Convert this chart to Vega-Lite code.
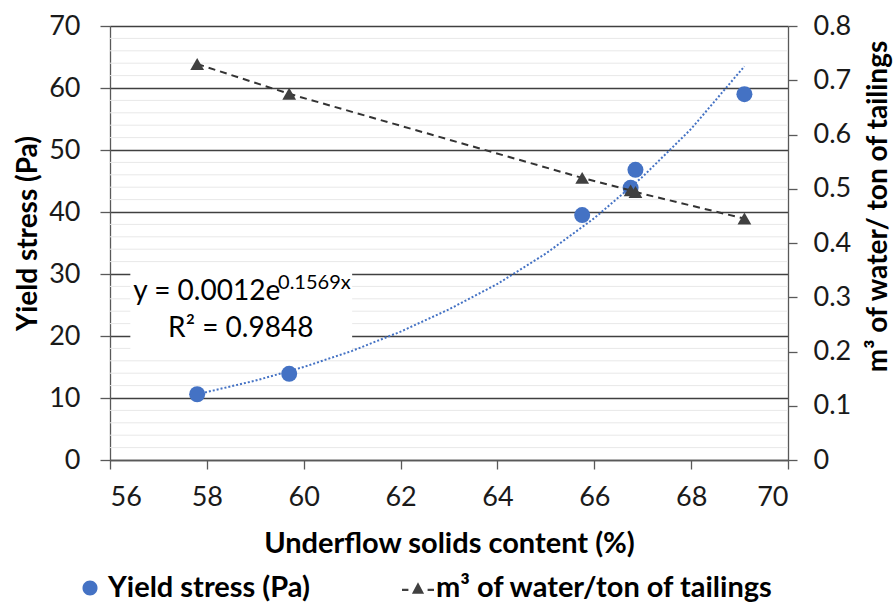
{
  "$schema": "https://vega.github.io/schema/vega-lite/v6.json",
  "width": 678,
  "height": 434,
  "autosize": {"type": "none"},
  "padding": {"left": 110, "top": 26, "right": 106, "bottom": 146},
  "background": "white",
  "config": {
    "font": "Lato",
    "view": {"stroke": null},
    "axis": {
      "labelFont": "Lato",
      "labelFontSize": 27,
      "labelColor": "#1a1a1a",
      "titleFont": "Lato",
      "titleFontSize": 28,
      "titleFontWeight": "bold",
      "titleColor": "#000000",
      "domainColor": "#595959",
      "domainWidth": 1.3,
      "tickColor": "#595959",
      "tickWidth": 1.3
    }
  },
  "datasets": {
    "yield": [
      {"x": 57.8, "ys": 10.6},
      {"x": 59.7, "ys": 13.9},
      {"x": 65.75, "ys": 39.5},
      {"x": 66.75, "ys": 43.9},
      {"x": 66.85, "ys": 46.8},
      {"x": 69.1, "ys": 59.0}
    ],
    "water": [
      {"x": 57.8, "w": 0.73},
      {"x": 59.7, "w": 0.675},
      {"x": 65.75, "w": 0.52},
      {"x": 66.75, "w": 0.497},
      {"x": 66.85, "w": 0.494},
      {"x": 69.1, "w": 0.445}
    ],
    "trend": [
      {"x": 57.8, "t": 10.6},
      {"x": 59, "t": 12.8},
      {"x": 60, "t": 15.0},
      {"x": 61, "t": 17.6},
      {"x": 62, "t": 20.7},
      {"x": 63, "t": 24.3},
      {"x": 64, "t": 28.4},
      {"x": 65, "t": 33.3},
      {"x": 66, "t": 39.0},
      {"x": 67, "t": 45.7},
      {"x": 68, "t": 53.4},
      {"x": 69.1, "t": 63.5}
    ],
    "minor": [
      {"v": 2}, {"v": 4}, {"v": 6}, {"v": 8},
      {"v": 12}, {"v": 14}, {"v": 16}, {"v": 18},
      {"v": 22}, {"v": 24}, {"v": 26}, {"v": 28},
      {"v": 32}, {"v": 34}, {"v": 36}, {"v": 38},
      {"v": 42}, {"v": 44}, {"v": 46}, {"v": 48},
      {"v": 52}, {"v": 54}, {"v": 56}, {"v": 58},
      {"v": 62}, {"v": 64}, {"v": 66}, {"v": 68}
    ],
    "annot": [
      {"eq": "y = 0.0012e", "exp": "0.1569x", "r2": "R² = 0.9848"}
    ]
  },
  "layer": [
    {
      "layer": [
        {
          "data": {"name": "minor"},
          "mark": {"type": "rule", "color": "#e8e8e8", "strokeWidth": 1},
          "encoding": {
            "y": {
              "field": "v",
              "type": "quantitative",
              "scale": {"domain": [0, 70], "nice": false, "zero": false},
              "axis": {
                "orient": "left",
                "title": "Yield stress (Pa)",
                "values": [0, 10, 20, 30, 40, 50, 60, 70],
                "grid": true,
                "gridColor": "#404040",
                "gridWidth": 1.3,
                "tickSize": 10,
                "labelPadding": 20,
                "titleAngle": 270,
                "titleX": -82,
                "titleY": 207,
                "titleAlign": "center",
                "titleBaseline": "middle"
              }
            }
          }
        },
        {
          "data": {"name": "annot"},
          "mark": {"type": "rect", "fill": "white"},
          "encoding": {
            "x": {"datum": 56.42, "type": "quantitative"},
            "x2": {"datum": 61.0},
            "y": {"datum": 16.9, "type": "quantitative"},
            "y2": {"datum": 31.3}
          }
        },
        {
          "data": {"name": "annot"},
          "mark": {"type": "text", "align": "left", "baseline": "middle", "fontSize": 28, "font": "Lato", "color": "#000000"},
          "encoding": {
            "x": {"datum": 56.48, "type": "quantitative"},
            "y": {"datum": 27.1, "type": "quantitative"},
            "text": {"field": "eq"}
          }
        },
        {
          "data": {"name": "annot"},
          "mark": {"type": "text", "align": "left", "baseline": "middle", "fontSize": 20, "font": "Lato", "color": "#000000"},
          "encoding": {
            "x": {"datum": 59.47, "type": "quantitative"},
            "y": {"datum": 28.5, "type": "quantitative"},
            "text": {"field": "exp"}
          }
        },
        {
          "data": {"name": "annot"},
          "mark": {"type": "text", "align": "center", "baseline": "middle", "fontSize": 28, "font": "Lato", "color": "#000000"},
          "encoding": {
            "x": {"datum": 58.7, "type": "quantitative"},
            "y": {"datum": 21.1, "type": "quantitative"},
            "text": {"field": "r2"}
          }
        },
        {
          "data": {"name": "trend"},
          "mark": {"type": "line", "color": "#4472C4", "strokeWidth": 2, "strokeDash": [2, 2]},
          "encoding": {
            "x": {
              "field": "x",
              "type": "quantitative",
              "scale": {"domain": [56, 70], "nice": false, "zero": false},
              "axis": {
                "title": "Underflow solids content (%)",
                "titleFontSize": 29,
                "values": [56, 58, 60, 62, 64, 66, 68, 70],
                "grid": false,
                "tickSize": 9,
                "labelPadding": 15,
                "titleY": 83,
                "titleBaseline": "middle"
              }
            },
            "y": {"field": "t", "type": "quantitative"}
          }
        },
        {
          "data": {"name": "yield"},
          "mark": {"type": "point", "filled": true, "opacity": 1, "size": 256, "shape": "circle"},
          "encoding": {
            "x": {"field": "x", "type": "quantitative"},
            "y": {"field": "ys", "type": "quantitative"},
            "color": {
              "datum": "Yield stress (Pa)",
              "type": "nominal",
              "scale": {
                "domain": ["Yield stress (Pa)", "m³ of water/ton of tailings"],
                "range": ["#4472C4", "#404040"]
              },
              "legend": {
                "title": null,
                "orient": "none",
                "direction": "horizontal",
                "legendX": -36,
                "legendY": 546,
                "padding": 0,
                "labelFont": "Lato",
                "labelFontSize": 29,
                "labelFontWeight": "bold",
                "labelColor": "#000000",
                "labelLimit": 800,
                "labelOffset": 2,
                "columnPadding": 92,
                "symbolSize": 1024,
                "symbolStrokeWidth": 0,
                "symbolOpacity": 1,
                "encode": {
                  "symbols": {
                    "update": {
                      "shape": {"signal": "datum.value === 'Yield stress (Pa)' ? 'M0.47,0A0.47,0.47,0,1,1,-0.47,0A0.47,0.47,0,1,1,0.47,0Z' : 'M-1,0.04H-0.6V0.18H-1Z M0.6,0.04H1V0.18H0.6Z M-0.38,0.36L0,-0.36L0.38,0.36Z'"}
                    }
                  }
                }
              }
            }
          }
        }
      ]
    },
    {
      "layer": [
        {
          "data": {"name": "water"},
          "mark": {"type": "line", "color": "#333333", "strokeWidth": 2, "strokeDash": [7, 5]},
          "encoding": {
            "x": {"field": "x", "type": "quantitative"},
            "y": {
              "field": "w",
              "type": "quantitative",
              "scale": {"domain": [0, 0.8], "nice": false, "zero": false},
              "axis": {
                "orient": "right",
                "title": "m³ of water/ ton of tailings",
                "values": [0, 0.1, 0.2, 0.3, 0.4, 0.5, 0.6, 0.7, 0.8],
                "format": ".1~f",
                "grid": false,
                "tickSize": 9,
                "labelPadding": 16,
                "titleAngle": 270,
                "titleX": 90,
                "titleY": 180,
                "titleAlign": "center",
                "titleBaseline": "middle"
              }
            }
          }
        },
        {
          "data": {"name": "water"},
          "mark": {"type": "point", "filled": true, "opacity": 1, "size": 190, "shape": "triangle-up"},
          "encoding": {
            "x": {"field": "x", "type": "quantitative"},
            "y": {"field": "w", "type": "quantitative"},
            "color": {"datum": "m³ of water/ton of tailings", "type": "nominal"}
          }
        }
      ]
    }
  ],
  "resolve": {"scale": {"y": "independent"}}
}
